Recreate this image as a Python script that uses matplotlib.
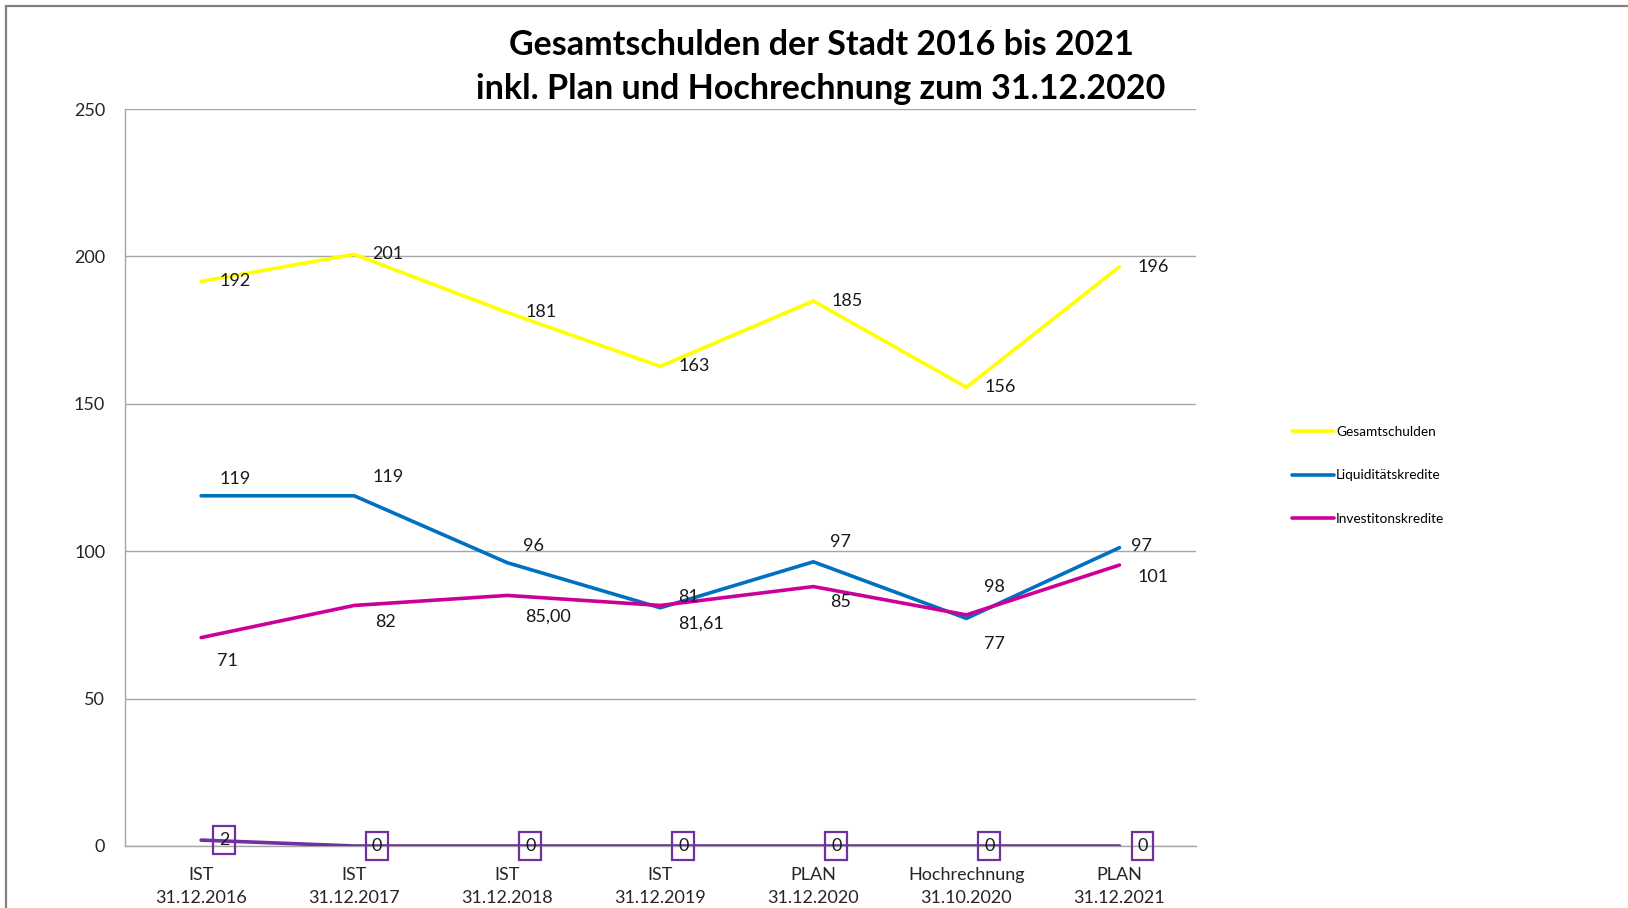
import matplotlib
matplotlib.use("Agg")
import matplotlib.pyplot as plt
from matplotlib.patches import Rectangle

plt.rcParams['font.family'] = ['Lato', 'DejaVu Sans']

categories = ["IST\n31.12.2016", "IST\n31.12.2017", "IST\n31.12.2018", "IST\n31.12.2019",
              "PLAN\n31.12.2020", "Hochrechnung\n31.10.2020", "PLAN\n31.12.2021"]

gesamt = [191.5, 200.7, 181.0, 162.7, 184.9, 155.6, 196.5]
gesamt_labels = ["192", "201", "181", "163", "185", "156", "196"]

liquid = [118.8, 118.8, 96.1, 80.8, 96.4, 77.2, 101.2]
liquid_labels = ["119", "119", "96", "81", "97", "98", "97"]

invest = [70.7, 81.6, 85.0, 81.6, 88.0, 78.4, 95.3]
invest_labels = ["71", "82", "85,00", "81,61", "85", "77", "101"]

sonstige = [2, 0, 0, 0, 0, 0, 0]
sonstige_labels = ["2", "0", "0", "0", "0", "0", "0"]

yticks = [0, 50, 100, 150, 200, 250]

W, H = 1628, 908
fig = plt.figure(figsize=(W / 100, H / 100), dpi=100)
ax = fig.add_axes([124.6 / W, 1 - 846 / H, (1196 - 124.6) / W, (846 - 109) / H])

x = list(range(len(categories)))
ax.plot(x, gesamt, color='#FFFF00', lw=2.6, solid_capstyle='round', zorder=3)
ax.plot(x, liquid, color='#0070C0', lw=2.6, solid_capstyle='round', zorder=3)
ax.plot(x, invest, color='#CC0099', lw=2.6, solid_capstyle='round', zorder=4)
ax.plot(x, sonstige, color='#7030A0', lw=2.6, solid_capstyle='round', zorder=4)

ax.set_xlim(-0.5, 6.5)
ax.set_ylim(0, 250)
ax.set_yticks(yticks)
ax.set_yticklabels([str(v) for v in yticks])
ax.set_xticks(x)
ax.set_xticklabels(categories, linespacing=1.55)
ax.tick_params(axis='both', length=0, labelsize=13, labelcolor='#262626')
ax.tick_params(axis='y', pad=14)
ax.tick_params(axis='x', pad=15)
ax.grid(axis='y', color='#A6A6A6', lw=1.0)
ax.set_axisbelow(True)
for s in ['top', 'right']:
    ax.spines[s].set_visible(False)
for s in ['left', 'bottom']:
    ax.spines[s].set_color('#A6A6A6')
    ax.spines[s].set_linewidth(1.0)

lab_kw = dict(textcoords='offset pixels', fontsize=13, color='#1a1a1a', ha='left', va='center', zorder=6)
for i, t in enumerate(gesamt_labels):
    ax.annotate(t, (x[i], gesamt[i]), xytext=(18, 0), **lab_kw)

liq_off = [(18, 17), (18, 19), (16, 17), (18, 11), (17, 20), (18, 31), (12, 2)]
for i, t in enumerate(liquid_labels):
    ax.annotate(t, (x[i], liquid[i]), xytext=liq_off[i], **lab_kw)

inv_off = [(16, -23), (21, -17), (18, -21), (18, -18), (17, -15), (18, -29), (18, -12)]
for i, t in enumerate(invest_labels):
    ax.annotate(t, (x[i], invest[i]), xytext=inv_off[i], **lab_kw)

for i, t in enumerate(sonstige_labels):
    ax.annotate(t, (x[i], sonstige[i]), xytext=(23, 0), textcoords='offset pixels',
                fontsize=13, color='#1a1a1a', ha='center', va='center', zorder=7,
                bbox=dict(boxstyle='square,pad=0.32', fc='none', ec='#7030A0', lw=1.6),
                annotation_clip=False)

# legend (three main series)
handles = ax.get_lines()[:3]
fig.legend(handles, ["Gesamtschulden", "Liquiditätskredite", "Investitonskredite"],
           loc='upper left', bbox_to_anchor=(1292 / W, 1 - 426 / H), frameon=False,
           fontsize=9.8, handlelength=3.1, handletextpad=0.15, labelspacing=2.3,
           borderpad=0, borderaxespad=0)

fig.text(821 / W, 1 - 44.6 / H, "Gesamtschulden der Stadt 2016 bis 2021",
         ha='center', va='center', fontsize=24.5, fontweight='bold', color='#000000')
fig.text(821 / W, 1 - 89 / H, "inkl. Plan und Hochrechnung zum 31.12.2020",
         ha='center', va='center', fontsize=24.5, fontweight='bold', color='#000000')

fig.patches.append(Rectangle((6 / W, -0.05), 1.1, 1 - 6 / H + 0.05, transform=fig.transFigure,
                             fill=False, ec='#808080', lw=1.6))

fig.savefig("out.png", dpi=100)
